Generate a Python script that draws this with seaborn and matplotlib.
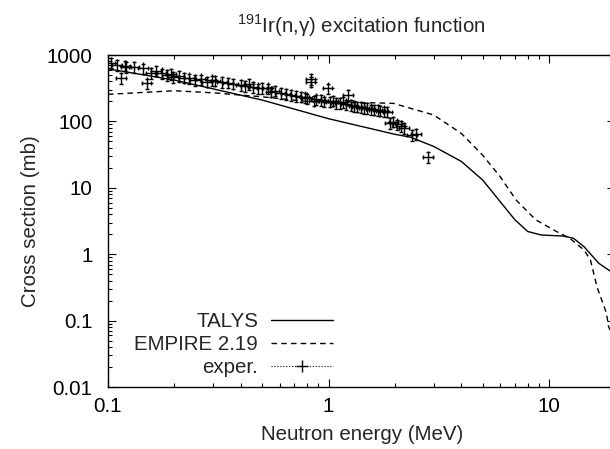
import matplotlib
matplotlib.use('Agg')
import matplotlib.pyplot as plt
from matplotlib.lines import Line2D
import seaborn as sns
import numpy as np
import pandas as pd

# TALYS calculation (MeV, mb)
talys_e = [0.1, 0.2, 0.5, 1.0, 2.0, 2.35, 3.0, 4.0, 5.0, 7.0, 8.0, 9.2, 11.6, 12.9, 14.4, 16.8, 18.6, 20.0]
talys_xs = [620, 420, 210, 110, 64, 58, 42, 25, 13.1, 3.3, 2.2, 1.95, 1.88, 1.74, 1.3, 0.73, 0.58, 0.5]

# EMPIRE 2.19 calculation
empire_e = [0.1, 0.2, 0.3, 0.5, 0.8, 1.0, 1.5, 1.97, 3.0, 4.0, 5.0, 6.0, 7.1, 8.7, 10.8, 12.4, 14.4, 15.4, 16.5, 18.2, 18.6, 20.0]
empire_xs = [256, 290, 270, 235, 200, 190, 192, 187, 125, 66, 31, 14.7, 6.5, 3.3, 2.2, 1.74, 1.16, 0.82, 0.32, 0.13, 0.081, 0.05]

# experimental points
exp_e = [0.103, 0.11, 0.115, 0.12, 0.121, 0.131, 0.144, 0.15, 0.156, 0.165, 0.175, 0.185,
         0.193, 0.198, 0.21, 0.222, 0.234, 0.248, 0.263, 0.282, 0.295, 0.307, 0.33, 0.35,
         0.37, 0.399, 0.42, 0.435, 0.455, 0.477, 0.5, 0.53, 0.546, 0.57, 0.606, 0.64,
         0.673, 0.71, 0.747, 0.78, 0.80, 0.83, 0.83, 0.855, 0.88, 0.92, 0.95, 0.99,
         1.02, 1.05, 1.08, 1.13, 1.16, 1.2, 1.23, 1.26, 1.3, 1.35, 1.4, 1.45, 1.5, 1.55,
         1.6, 1.67, 1.72, 1.78, 1.85, 1.9, 1.97, 2.05, 2.12, 2.2, 2.4, 2.5, 2.83]
exp_xs = [770, 707, 450, 690, 660, 665, 630, 375, 540, 580, 530, 500,
          517, 470, 480, 455, 445, 420, 430, 396, 415, 410, 390, 383,
          370, 353, 340, 365, 330, 315, 320, 315, 280, 290, 270, 260,
          250, 240, 236, 230, 223, 396, 435, 205, 215, 210, 200, 315,
          198, 205, 190, 188, 195, 180, 250, 177, 172, 167, 165, 160, 158, 152,
          150, 149, 145, 142, 140, 94, 99, 90, 85, 80, 62, 65, 29]
exp_dx_rel = 0.05
exp_dy_rel = 0.18

fig_title = r'$^{191}$Ir(n,γ) excitation function'
x_label = 'Neutron energy (MeV)'
y_label = 'Cross section (mb)'

FS = 14.8

sns.set_theme(style='ticks')
plt.rcParams['font.family'] = ['Liberation Sans', 'DejaVu Sans']
plt.rcParams['mathtext.fontset'] = 'custom'
plt.rcParams['mathtext.rm'] = 'Liberation Sans'
plt.rcParams['font.size'] = FS

fig = plt.figure(figsize=(6.1, 4.49), dpi=100)
ax = fig.add_axes([0.177, 0.138, 0.832, 0.7394])

talys = pd.DataFrame({'E': talys_e, 'xs': talys_xs})
empire = pd.DataFrame({'E': empire_e, 'xs': empire_xs})

sns.lineplot(data=talys, x='E', y='xs', ax=ax, color='black', lw=1.0, legend=False)
sns.lineplot(data=empire, x='E', y='xs', ax=ax, color='black', lw=1.0, legend=False)
ax.lines[1].set_dashes((4, 3))

e = np.array(exp_e)
s = np.array(exp_xs)
eb = ax.errorbar(e, s, xerr=e * exp_dx_rel, yerr=s * exp_dy_rel, fmt='+', color='black',
                 ms=8, mew=1.0, elinewidth=0.8, capsize=1.5, capthick=0.8)
for c in eb[2]:
    c.set_linestyle(':')

ax.set_xscale('log')
ax.set_yscale('log')
ax.set_xlim(0.1, 20)
ax.set_ylim(0.01, 1000)
ax.set_xticks([0.1, 1, 10])
ax.set_xticklabels(['0.1', '1', '10'])
ax.set_yticks([0.01, 0.1, 1, 10, 100, 1000])
ax.set_yticklabels(['0.01', '0.1', '1', '10', '100', '1000'])
ax.tick_params(which='both', direction='in', top=True, right=True, colors='black',
               labelsize=FS, width=0.8)
ax.tick_params(which='major', length=6)
ax.tick_params(which='minor', length=3)
ax.tick_params(axis='x', pad=7)
ax.tick_params(axis='y', pad=11)
for sp in ax.spines.values():
    sp.set_linewidth(1.0)
    sp.set_color('black')

ax.set_xlabel(x_label, fontsize=FS, labelpad=7)
ax.set_ylabel(y_label, fontsize=FS, labelpad=5)
fig.text(0.592, 0.942, fig_title, ha='center', va='center', fontsize=FS)

handles = [Line2D([], [], color='black', lw=1.0),
           Line2D([], [], color='black', lw=1.0, dashes=(4, 3)),
           Line2D([], [], color='black', lw=0.8, ls=':', marker='+', ms=8, mew=1.0)]
labels = ['TALYS', 'EMPIRE 2.19', 'exper.']
ax.legend(handles, labels, loc='lower right', bbox_to_anchor=(0.546, 0.16),
          bbox_transform=fig.transFigure, frameon=False, markerfirst=False, numpoints=1,
          handlelength=3.0, handletextpad=0.65, labelspacing=0.2, borderpad=0,
          borderaxespad=0, fontsize=FS)

fig.savefig('out.png', dpi=100)
